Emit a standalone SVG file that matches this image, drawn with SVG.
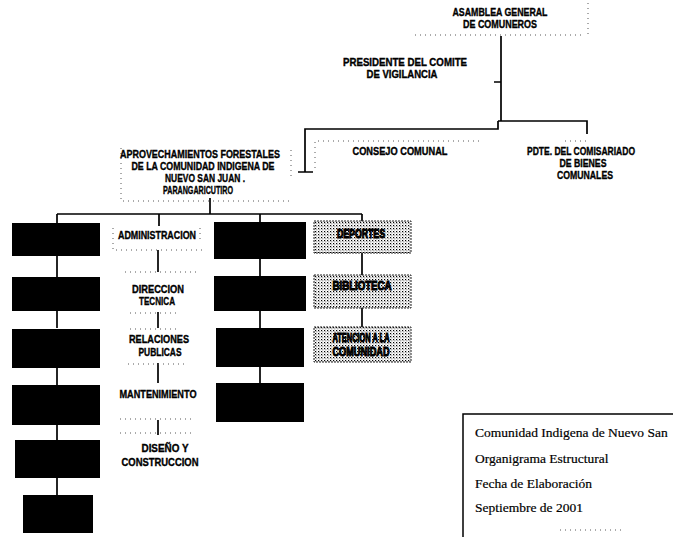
<svg xmlns="http://www.w3.org/2000/svg" width="673" height="537" viewBox="0 0 673 537">
<defs>
<pattern id="ht" width="3" height="3" patternUnits="userSpaceOnUse">
<rect width="3" height="3" fill="#fff"/>
<rect width="1.2" height="1.2" fill="#000"/>
<rect x="1.5" y="1.5" width="0.8" height="0.8" fill="#000"/>
</pattern>
<style>
.t{font-family:"Liberation Sans",Arial,sans-serif;font-weight:bold;font-size:10.5px;fill:#000;stroke:#000;stroke-width:0.35;text-anchor:middle}
.ht{font-family:"Liberation Sans",Arial,sans-serif;font-weight:bold;font-size:12.5px;fill:#000;stroke:#000;stroke-width:1;text-anchor:middle}
.lg{font-family:"Liberation Serif","Times New Roman",serif;font-size:13.5px;fill:#000;stroke:#000;stroke-width:0.2}
.blk{fill:#000}
.hbox{fill:url(#ht);stroke:#222;stroke-width:1;stroke-dasharray:2 1}
.c{stroke:#000;stroke-width:1.7;fill:none}
.d{stroke:#444;stroke-width:0.9;fill:none;stroke-dasharray:1 4}
</style>
</defs>
<rect width="673" height="537" fill="#fff"/>

<g id="connectors">
<path class="c" d="M501 36V121M494 82H501M498 121H587V134M498 121V129H305V172M298 172H313"/>
<path class="c" d="M210 198V214M57 214H362M57 214V223M159 214V226M260 214V222M362 214V221"/>
<path class="c" d="M57 256V277M57 311V328M57 368V385M57 425V440M57 478V495"/>
<path class="c" d="M260 259V276M260 311V328M260 367V383"/>
<path class="c" d="M362 253V275M362 308V327"/>
<path class="c" d="M158 250V272M158 312V328M158 363V383M158 420V435"/>
</g>

<g id="decor">
<path class="d" d="M415 35H585M588 3V35"/>
<path class="d" d="M121 148V201H292M291 150V178M315 142V170M318 141H480M565 141H590"/>
<path class="d" d="M113 228V250H202M200 228V240"/>
<path class="d" d="M125 272H200M130 313H180M130 329H180M128 364H185M120 419H195M120 433H195"/>
<path class="d" d="M560 530H625"/>
</g>

<g id="asamblea">
<text class="t" x="500" y="16" textLength="95" lengthAdjust="spacingAndGlyphs">ASAMBLEA GENERAL</text>
<text class="t" x="500" y="28" textLength="74" lengthAdjust="spacingAndGlyphs">DE COMUNEROS</text>
</g>
<g id="presidente">
<text class="t" x="405" y="66" textLength="124" lengthAdjust="spacingAndGlyphs">PRESIDENTE  DEL COMITE</text>
<text class="t" x="402" y="78" textLength="71" lengthAdjust="spacingAndGlyphs">DE VIGILANCIA</text>
</g>
<g id="consejo">
<text class="t" x="400" y="155" textLength="95" lengthAdjust="spacingAndGlyphs">CONSEJO COMUNAL</text>
</g>
<g id="pdte">
<text class="t" x="581" y="155" textLength="108" lengthAdjust="spacingAndGlyphs">PDTE. DEL COMISARIADO</text>
<text class="t" x="583" y="167" textLength="47" lengthAdjust="spacingAndGlyphs">DE BIENES</text>
<text class="t" x="585" y="179" textLength="56" lengthAdjust="spacingAndGlyphs">COMUNALES</text>
</g>
<g id="aprovechamientos">
<text class="t" x="200" y="158" textLength="160" lengthAdjust="spacingAndGlyphs">APROVECHAMIENTOS FORESTALES</text>
<text class="t" x="203" y="170" textLength="143" lengthAdjust="spacingAndGlyphs">DE LA COMUNIDAD INDIGENA DE</text>
<text class="t" x="205" y="182" textLength="80" lengthAdjust="spacingAndGlyphs">NUEVO SAN JUAN .</text>
<text class="t" x="198" y="194" textLength="70" lengthAdjust="spacingAndGlyphs">PARANGARICUTIRO</text>
</g>

<g id="left1"><rect class="blk" x="12" y="223" width="88" height="33"/></g>
<g id="left2"><rect class="blk" x="12" y="277" width="88" height="34"/></g>
<g id="left3"><rect class="blk" x="12" y="329" width="88" height="39"/></g>
<g id="left4"><rect class="blk" x="12" y="385" width="88" height="40"/></g>
<g id="left5"><rect class="blk" x="15" y="440" width="85" height="38"/></g>
<g id="left6"><rect class="blk" x="23" y="495" width="70" height="38"/></g>

<g id="mid1"><rect class="blk" x="214" y="222" width="92" height="37"/></g>
<g id="mid2"><rect class="blk" x="214" y="276" width="92" height="35"/></g>
<g id="mid3"><rect class="blk" x="216" y="328" width="88" height="39"/></g>
<g id="mid4"><rect class="blk" x="216" y="383" width="88" height="39"/></g>

<g id="administracion"><text class="t" x="157" y="239" textLength="78" lengthAdjust="spacingAndGlyphs">ADMINISTRACION</text></g>
<g id="direccion">
<text class="t" x="158" y="293" textLength="52" lengthAdjust="spacingAndGlyphs">DIRECCION</text>
<text class="t" x="157" y="305" textLength="36" lengthAdjust="spacingAndGlyphs">TECNICA</text>
</g>
<g id="relaciones">
<text class="t" x="159" y="343" textLength="60" lengthAdjust="spacingAndGlyphs">RELACIONES</text>
<text class="t" x="160" y="356" textLength="43" lengthAdjust="spacingAndGlyphs">PUBLICAS</text>
</g>
<g id="mantenimiento"><text class="t" x="158" y="398" textLength="77" lengthAdjust="spacingAndGlyphs">MANTENIMIENTO</text></g>
<g id="diseno">
<text class="t" x="165" y="452" textLength="47" lengthAdjust="spacingAndGlyphs">DISEÑO Y</text>
<text class="t" x="160" y="466" textLength="77" lengthAdjust="spacingAndGlyphs">CONSTRUCCION</text>
</g>

<g id="deportes">
<rect class="hbox" x="314" y="221" width="97" height="32"/>
<text class="ht" x="361" y="238" textLength="48" lengthAdjust="spacingAndGlyphs">DEPORTES</text>
</g>
<g id="biblioteca">
<rect class="hbox" x="314" y="275" width="97" height="33"/>
<text class="ht" x="362" y="290" textLength="59" lengthAdjust="spacingAndGlyphs">BIBLIOTECA</text>
</g>
<g id="atencion">
<rect class="hbox" x="314" y="327" width="97" height="35"/>
<text class="ht" x="361" y="342" textLength="57" lengthAdjust="spacingAndGlyphs">ATENCION A LA</text>
<text class="ht" x="361" y="356" textLength="57" lengthAdjust="spacingAndGlyphs">COMUNIDAD</text>
</g>

<g id="legend">
<path d="M463 537V414H673" stroke="#000" stroke-width="1.5" fill="none"/>
<text class="lg" x="475" y="437">Comunidad Indigena de Nuevo San</text>
<text class="lg" x="475" y="463">Organigrama Estructural</text>
<text class="lg" x="475" y="488">Fecha de Elaboración</text>
<text class="lg" x="475" y="512">Septiembre de 2001</text>
</g>
</svg>
